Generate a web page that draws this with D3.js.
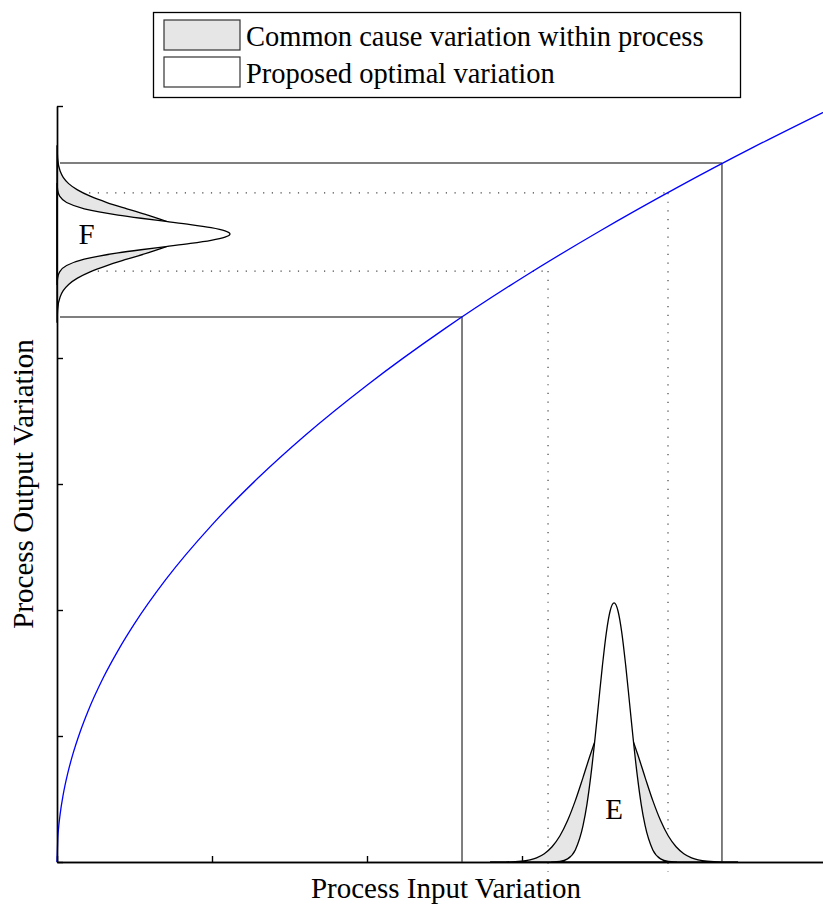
<!DOCTYPE html>
<html>
<head>
<meta charset="utf-8">
<script src="https://cdn.jsdelivr.net/npm/d3@7"></script>
<style>
  body { margin: 0; background: #fff; }
  text { font-family: "Liberation Serif", "Times New Roman", serif; fill: #000; }
</style>
</head>
<body>
<div id="chart"></div>
<script>
// transfer curve (input -> output)
const curveIn  = [0, 0.005, 0.01, 0.02, 0.04, 0.07, 0.1, 0.15, 0.2, 0.3, 0.4, 0.5, 0.7, 1.0, 1.3, 1.6, 2.0, 2.5, 3.0, 3.5, 4.0, 4.5, 5.0];
const curveOut = [0, 0.189, 0.268, 0.378, 0.535, 0.708, 0.846, 1.036, 1.197, 1.466, 1.692, 1.892, 2.239, 2.676, 3.051, 3.385, 3.784, 4.231, 4.635, 5.006, 5.352, 5.677, 5.984];

// E: input distributions along the x axis
const eWideX = [2.794, 2.894, 2.994, 3.094, 3.144, 3.194, 3.244, 3.294, 3.344, 3.394, 3.444, 3.494, 3.544, 3.594,
                3.644, 3.694, 3.744, 3.794, 3.844, 3.894, 3.944, 3.994, 4.044, 4.094, 4.194, 4.294, 4.394];
const eWideY = [0, 0.001, 0.007, 0.033, 0.066, 0.121, 0.206, 0.329, 0.487, 0.672, 0.863, 1.031, 1.148, 1.19,
                1.148, 1.031, 0.863, 0.672, 0.487, 0.329, 0.206, 0.121, 0.066, 0.033, 0.007, 0.001, 0];
const eNarrowX = [3.194, 3.244, 3.294, 3.344, 3.394, 3.419, 3.444, 3.469, 3.494, 3.519, 3.544, 3.569, 3.594,
                  3.619, 3.644, 3.669, 3.694, 3.719, 3.744, 3.769, 3.794, 3.844, 3.894, 3.944, 3.994];
const eNarrowY = [0.001, 0.005, 0.025, 0.096, 0.290, 0.458, 0.683, 0.956, 1.260, 1.560, 1.819, 1.994, 2.056,
                  1.994, 1.819, 1.560, 1.260, 0.956, 0.683, 0.458, 0.290, 0.096, 0.025, 0.005, 0.001];

// F: output distributions along the y axis
const fWideY = [4.284, 4.384, 4.484, 4.534, 4.584, 4.634, 4.684, 4.734, 4.784, 4.834, 4.884, 4.934, 4.984,
                5.034, 5.084, 5.134, 5.184, 5.234, 5.284, 5.334, 5.384, 5.434, 5.484, 5.584, 5.684];
const fWideX = [0.001, 0.004, 0.020, 0.040, 0.075, 0.132, 0.214, 0.322, 0.451, 0.585, 0.705, 0.789, 0.819,
                0.789, 0.705, 0.585, 0.451, 0.322, 0.214, 0.132, 0.075, 0.040, 0.020, 0.004, 0.001];
const fNarrowY = [4.584, 4.634, 4.684, 4.734, 4.784, 4.809, 4.834, 4.859, 4.884, 4.909, 4.934, 4.959, 4.984,
                  5.009, 5.034, 5.059, 5.084, 5.109, 5.134, 5.159, 5.184, 5.234, 5.284, 5.334, 5.384];
const fNarrowX = [0.001, 0.004, 0.017, 0.062, 0.176, 0.271, 0.394, 0.542, 0.703, 0.861, 0.994, 1.084, 1.116,
                  1.084, 0.994, 0.861, 0.703, 0.542, 0.394, 0.271, 0.176, 0.062, 0.017, 0.004, 0.001];

// projection guides
const solidIn   = [2.613, 4.290];
const solidOut  = [4.325, 5.548];
const dottedIn  = [3.168, 3.942];
const dottedOut = [4.690, 5.310];

const xTicks = [0, 1, 2, 3, 4, 5];
const yTicks = [0, 1, 2, 3, 4, 5, 6];

const legendLabels = ["Common cause variation within process", "Proposed optimal variation"];
const legendFills = ["#e6e6e6", "#ffffff"];

const width = 823, height = 906;

const svg = d3.select("#chart").append("svg")
    .attr("width", width)
    .attr("height", height);

const x = d3.scaleLinear().domain([0, 5]).range([57, 832]);
const y = d3.scaleLinear().domain([0, 6]).range([862, 106]);

// axes with inward ticks
svg.append("g")
    .attr("transform", `translate(0,${y(0)})`)
    .call(d3.axisBottom(x).tickValues(xTicks).tickSize(-6).tickSizeOuter(0).tickFormat(""))
    .call(g => g.selectAll("line,path").attr("stroke", "#000").attr("stroke-width", 1.4));

svg.append("g")
    .attr("transform", `translate(${x(0)},0)`)
    .call(d3.axisLeft(y).tickValues(yTicks).tickSize(-6).tickSizeOuter(0).tickFormat(""))
    .call(g => g.selectAll("line,path").attr("stroke", "#000").attr("stroke-width", 1.4));

// guide lines
const guides = svg.append("g").attr("fill", "none");
solidIn.forEach((v, i) => {
    guides.append("line")
        .attr("x1", x(v)).attr("x2", x(v))
        .attr("y1", y(solidOut[i])).attr("y2", y(0))
        .attr("stroke", "#555").attr("stroke-width", 1.5);
    guides.append("line")
        .attr("x1", x(0) + 3).attr("x2", x(v))
        .attr("y1", y(solidOut[i])).attr("y2", y(solidOut[i]))
        .attr("stroke", "#555").attr("stroke-width", 1.5);
});
dottedIn.forEach((v, i) => {
    guides.append("line")
        .attr("x1", x(v)).attr("x2", x(v))
        .attr("y1", y(dottedOut[i])).attr("y2", y(0) + 10)
        .attr("stroke", "#444").attr("stroke-width", 1.2)
        .attr("stroke-dasharray", "1.2,7.5");
    guides.append("line")
        .attr("x1", x(0) + 6).attr("x2", x(v))
        .attr("y1", y(dottedOut[i])).attr("y2", y(dottedOut[i]))
        .attr("stroke", "#444").attr("stroke-width", 1.2)
        .attr("stroke-dasharray", "1.2,7.5");
});

// transfer curve
svg.append("path")
    .datum(d3.zip(curveIn, curveOut))
    .attr("fill", "none")
    .attr("stroke", "#0000ff")
    .attr("stroke-width", 1.3)
    .attr("d", d3.line().x(d => x(d[0])).y(d => y(d[1])).curve(d3.curveMonotoneX));

// distributions on the x axis (E)
const areaX = d3.area().x(d => x(d[0])).y0(y(0)).y1(d => y(d[1])).curve(d3.curveMonotoneX);
svg.append("path")
    .datum(d3.zip(eWideX, eWideY))
    .attr("fill", "#e6e6e6").attr("stroke", "#000").attr("stroke-width", 1.3)
    .attr("d", areaX);
svg.append("path")
    .datum(d3.zip(eNarrowX, eNarrowY))
    .attr("fill", "#fff").attr("stroke", "#000").attr("stroke-width", 1.3)
    .attr("d", areaX);

// distributions on the y axis (F)
const areaY = d3.area().y(d => y(d[0])).x0(x(0)).x1(d => x(d[1])).curve(d3.curveMonotoneY);
svg.append("path")
    .datum(d3.zip(fWideY, fWideX))
    .attr("fill", "#e6e6e6").attr("stroke", "#000").attr("stroke-width", 1.3)
    .attr("d", areaY);
svg.append("path")
    .datum(d3.zip(fNarrowY, fNarrowX))
    .attr("fill", "#fff").attr("stroke", "#000").attr("stroke-width", 1.3)
    .attr("d", areaY);

// redraw the axis lines over the fills
svg.append("g")
    .attr("transform", `translate(0,${y(0)})`)
    .call(d3.axisBottom(x).tickValues([]).tickSizeOuter(0))
    .call(g => g.select("path").attr("stroke", "#000").attr("stroke-width", 1.4));
svg.append("g")
    .attr("transform", `translate(${x(0)},0)`)
    .call(d3.axisLeft(y).tickValues([]).tickSizeOuter(0))
    .call(g => g.select("path").attr("stroke", "#000").attr("stroke-width", 1.4));

// letters
svg.append("text").attr("x", x(3.594)).attr("y", y(0.34)).attr("text-anchor", "middle")
    .attr("font-size", 29).text("E");
svg.append("text").attr("x", x(0.19)).attr("y", y(4.984) + 10).attr("text-anchor", "middle")
    .attr("font-size", 29).text("F");

// axis titles
svg.append("text").attr("x", 446).attr("y", 898).attr("text-anchor", "middle")
    .attr("font-size", 29).text("Process Input Variation");
svg.append("text").attr("transform", "translate(33,484) rotate(-90)").attr("text-anchor", "middle")
    .attr("font-size", 29).text("Process Output Variation");

// legend
const legend = svg.append("g");
legend.append("rect").attr("x", 153.5).attr("y", 12.5).attr("width", 587).attr("height", 85)
    .attr("fill", "#fff").attr("stroke", "#000").attr("stroke-width", 1.3);
legendLabels.forEach((label, i) => {
    const top = 20 + i * 37;
    legend.append("rect").attr("x", 164).attr("y", top).attr("width", 76).attr("height", 30)
        .attr("fill", legendFills[i]).attr("stroke", "#333").attr("stroke-width", 1.2);
    legend.append("text").attr("x", 246).attr("y", top + 26)
        .attr("font-size", 28.5).text(label);
});
</script>
</body>
</html>
